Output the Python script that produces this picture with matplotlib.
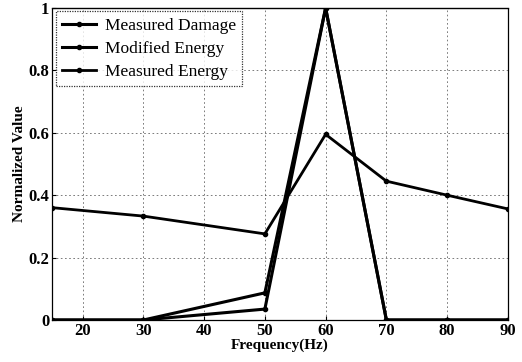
import matplotlib.pyplot as plt

freq = [15, 30, 50, 60, 70, 80, 90]
measured_damage = [0, 0, 0.035, 1.0, 0, 0, 0]
modified_energy = [0, 0, 0.087, 1.0, 0, 0, 0]
measured_energy = [0.36, 0.333, 0.276, 0.595, 0.445, 0.40, 0.356]

xticks = [20, 30, 40, 50, 60, 70, 80, 90]
yticks = [0, 0.2, 0.4, 0.6, 0.8, 1]
ytick_labels = ["0", "0.2", "0.4", "0.6", "0.8", "1"]

plt.rcParams["font.family"] = ["Liberation Serif", "DejaVu Serif"]
plt.rcParams["font.weight"] = "bold"

fig = plt.figure(figsize=(5.22, 3.62), dpi=100)
ax = fig.add_axes([0.1, 0.116, 0.873, 0.862])

ax.plot(freq, measured_damage, "k-", marker="o", ms=3, lw=2.2, label="Measured Damage")
ax.plot(freq, modified_energy, "k-", marker="o", ms=3, lw=2.2, label="Modified Energy")
ax.plot(freq, measured_energy, "k-", marker="o", ms=3, lw=2.0, label="Measured Energy")

ax.set_xlim(15, 90)
ax.set_ylim(0, 1)
ax.set_xticks(xticks)
ax.set_yticks(yticks)
ax.set_yticklabels(ytick_labels)
ax.tick_params(direction="in", length=3, labelsize=12, pad=2)
ax.grid(True, color="k", linestyle=(0, (2, 3)), linewidth=0.6, alpha=0.6)

for s in ["left", "right", "bottom"]:
    ax.spines[s].set_linestyle((0, (1, 1)))
    ax.spines[s].set_linewidth(0.9)
ax.spines["top"].set_linewidth(1.0)

ax.set_xlabel("Frequency(Hz)", fontsize=11, fontweight="bold", labelpad=0)
ax.set_ylabel("Normalized Value", fontsize=11, fontweight="bold", labelpad=2)

leg = ax.legend(loc="upper left", fontsize=12.5, frameon=True, fancybox=False,
                borderaxespad=0.2, handlelength=2.0, labelspacing=0.4,
                borderpad=0.35, handletextpad=0.5)
leg.get_frame().set_edgecolor("k")
leg.get_frame().set_linestyle((0, (1, 1)))
leg.get_frame().set_linewidth(0.9)
for t in leg.get_texts():
    t.set_fontweight("normal")

fig.savefig("out.png", dpi=100)
